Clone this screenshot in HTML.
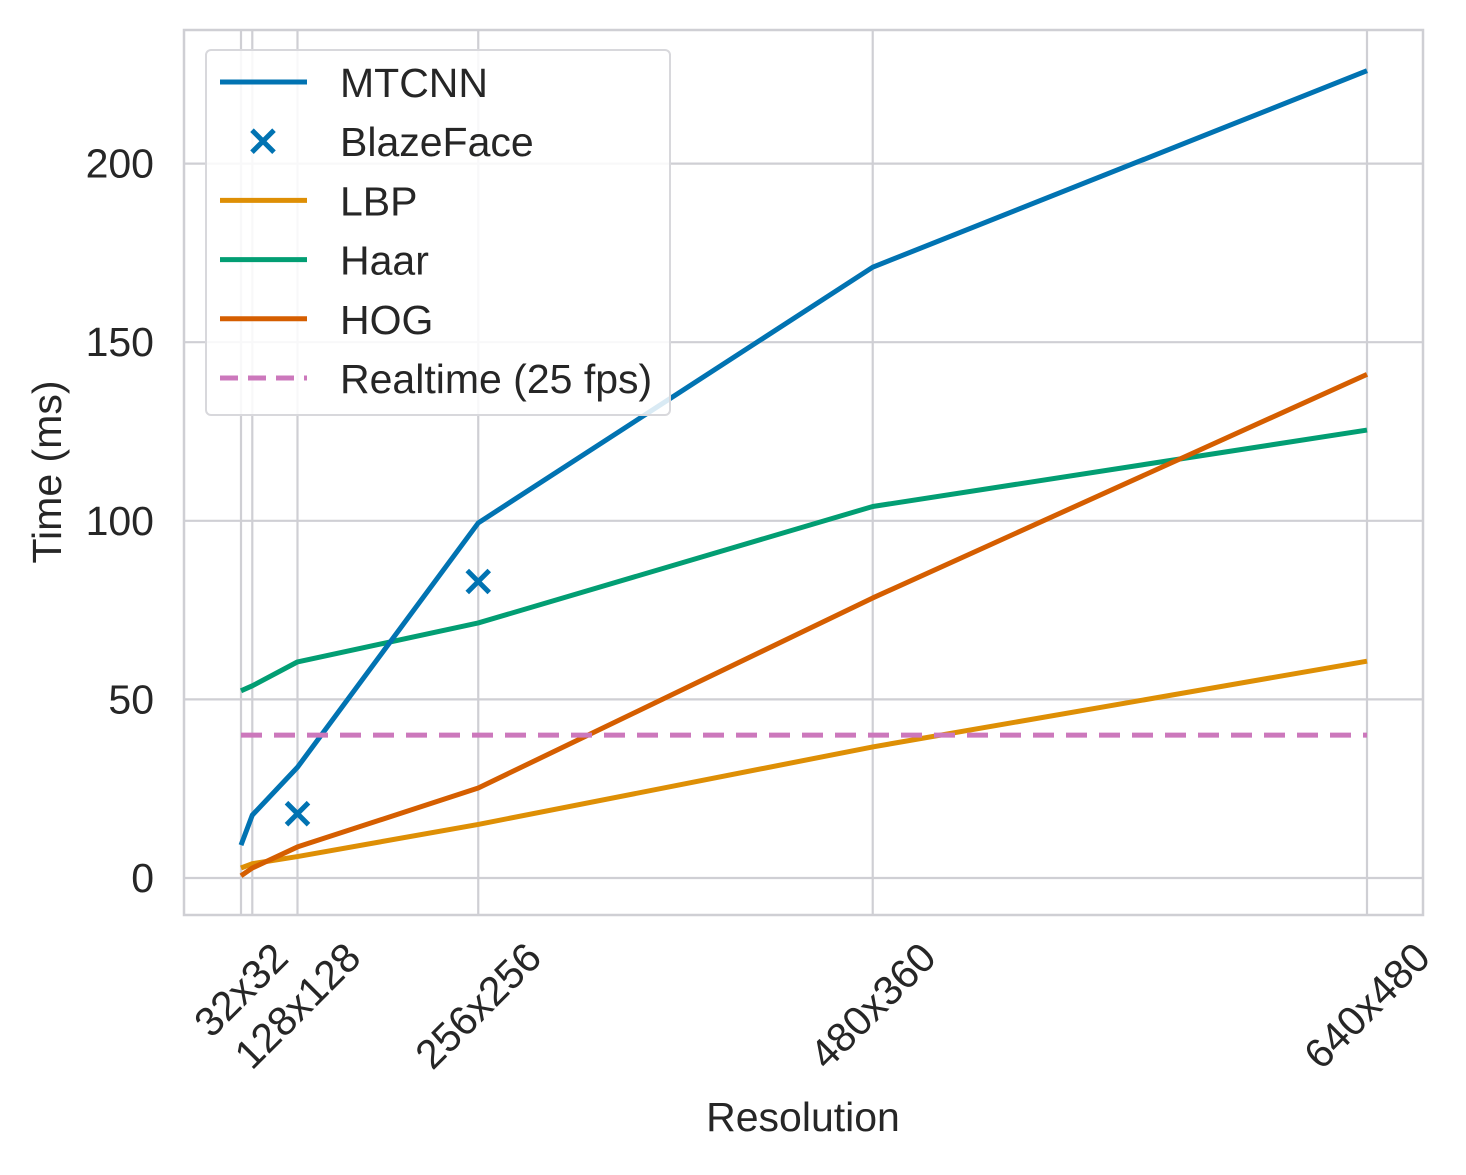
<!DOCTYPE html>
<html><head><meta charset="utf-8"><style>
body{margin:0;background:#fff;}
svg text{font-family:"Liberation Sans",sans-serif;fill:#262626;}
</style></head><body>
<svg id="chart" width="1466" height="1170"></svg>
<script>
const categories=["32x32","64x64","128x128","256x256","480x360","640x480"];
const pixels=[1024,4096,16384,65536,172800,307200];
const tickLabels=["32x32","","128x128","256x256","480x360","640x480"];
const yTicks=[0,50,100,150,200];
const mtcnn=[9.2,17.6,31,99.4,171,226];
const blazeX=[16384,65536];
const blazeY=[18,83];
const lbp=[2.8,4,6,15,36.7,60.7];
const haar=[52.4,53.8,60.5,71.4,104,125.4];
const hog=[0.6,2.8,8.7,25.2,78.4,141];
const realtime=40;

const NS="http://www.w3.org/2000/svg";
const svg=document.getElementById('chart');
const L=184,R=1423,T=30,B=915;
const FS=41;
const xs=p=>241+(p-1024)*(1126/306176);
const ys=v=>878-v*3.572;
function mk(tag,a,parent){const e=document.createElementNS(NS,tag);for(const k in a)e.setAttribute(k,a[k]);(parent||svg).appendChild(e);return e;}
pixels.forEach((p,i)=>{const g=mk('line',{x1:xs(p),x2:xs(p),y1:T,y2:B,stroke:'#cfcfd4','stroke-width':2.2});

});
yTicks.forEach(v=>{const g=mk('line',{x1:L,x2:R,y1:ys(v),y2:ys(v),stroke:'#cfcfd4','stroke-width':2.2});


const t=mk('text',{x:154,y:ys(v)+14,'text-anchor':'end','font-size':FS});t.textContent=v;

});
const fr=mk('rect',{x:L,y:T,width:R-L,height:B-T,fill:'none',stroke:'#cfcfd4','stroke-width':2.5});


tickLabels.forEach((s,i)=>{if(!s)return;const x=xs(pixels[i]);const len=s.length*22.5;const cy=950+len*0.354+14;
const t=mk('text',{x:x,y:cy,'text-anchor':'middle','font-size':FS,transform:`rotate(-45 ${x} ${cy-14})`});t.textContent=s;

});
let t=mk('text',{x:803,y:1131,'text-anchor':'middle','font-size':FS});t.textContent='Resolution';


t=mk('text',{x:61,y:472,'text-anchor':'middle','font-size':FS,transform:'rotate(-90 61 472)'});t.textContent='Time (ms)';


function line(arr,color,name){const pts=arr.map((v,i)=>xs(pixels[i])+','+ys(v)).join(' ');
const e=mk('polyline',{points:pts,fill:'none',stroke:color,'stroke-width':5,'stroke-linejoin':'round'});

}
line(lbp,'#de8f05','lbp-line');
line(haar,'#029e73','haar-line');
line(hog,'#d55e00','hog-line');
line(mtcnn,'#0173b2','mtcnn-line');
const rl=mk('line',{x1:xs(pixels[0]),x2:xs(pixels[5]),y1:ys(realtime),y2:ys(realtime),stroke:'#cc78bc','stroke-width':5,'stroke-dasharray':'21 12'});


blazeX.forEach((p,i)=>{const x=xs(p),y=ys(blazeY[i]);
const e=mk('path',{d:`M${x-11},${y-11}L${x+11},${y+11}M${x-11},${y+11}L${x+11},${y-11}`,stroke:'#0173b2','stroke-width':5});

});
const lg=mk('g',{});


mk('rect',{x:206,y:50,width:464,height:365,rx:5,fill:'#fff','fill-opacity':0.85,stroke:'#d8d8dc','stroke-width':2},lg);
const ent=[['MTCNN','#0173b2','l'],['BlazeFace','#0173b2','x'],['LBP','#de8f05','l'],['Haar','#029e73','l'],['HOG','#d55e00','l'],['Realtime (25 fps)','#cc78bc','d']];
ent.forEach((e,i)=>{const y=82+i*59.2;
if(e[2]=='x'){mk('path',{d:`M252,${y-11}L274,${y+11}M252,${y+11}L274,${y-11}`,stroke:e[1],'stroke-width':5},lg);}
else{const a={x1:220,x2:307,y1:y,y2:y,stroke:e[1],'stroke-width':5};if(e[2]=='d'){a['stroke-dasharray']='18 10';}mk('line',a,lg);}
const tx=mk('text',{x:340,y:y+15,'font-size':FS},lg);tx.textContent=e[0];

});
</script>
</body></html>
